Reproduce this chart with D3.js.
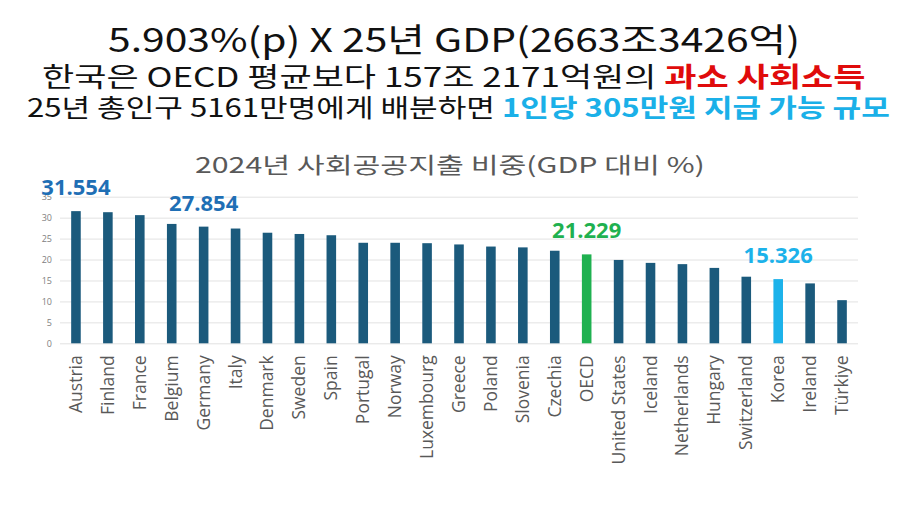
<!DOCTYPE html>
<html>
<head>
<meta charset="utf-8">
<script src="https://cdn.jsdelivr.net/npm/d3@7"></script>
<style>
  body { margin: 0; background: #fff; }
  svg { display: block; }
</style>
</head>
<body>
<div id="chart"></div>
<script>
// data
const countries = ["Austria", "Finland", "France", "Belgium", "Germany", "Italy", "Denmark",
  "Sweden", "Spain", "Portugal", "Norway", "Luxembourg", "Greece", "Poland", "Slovenia",
  "Czechia", "OECD", "United States", "Iceland", "Netherlands", "Hungary", "Switzerland",
  "Korea", "Ireland", "Türkiye"];
const shares = [31.554, 31.3, 30.6, 28.5, 27.854, 27.4, 26.4, 26.1, 25.8, 24.0, 24.0, 23.9,
  23.6, 23.1, 22.9, 22.1, 21.229, 19.9, 19.2, 18.9, 18.0, 15.9, 15.326, 14.3, 10.3];
const yTicks = [0, 5, 10, 15, 20, 25, 30, 35];
const labelled = ["Austria", "Germany", "OECD", "Korea"];

const headline = "5.903%(p) X 25년 GDP(2663조3426억)";
const line2 = [["한국은 OECD 평균보다 157조 2171억원의 ", false], ["과소 사회소득", true]];
const line3 = [["25년 총인구 5161만명에게 배분하면 ", false], ["1인당 305만원 지급 가능 규모", true]];
const chartTitle = "2024년 사회공공지출 비중(GDP 대비 %)";

const width = 922, height = 511;
const barColor = "#1b5a7c", oecdColor = "#1fb150", koreaColor = "#1cb2ea";

function colorOf(name) {
  if (name === "OECD") return oecdColor;
  if (name === "Korea") return koreaColor;
  return barColor;
}
function labelColor(name) {
  if (name === "OECD") return oecdColor;
  if (name === "Korea") return koreaColor;
  return "#1f6fb5";
}

const svg = d3.select("#chart").append("svg")
  .attr("width", width)
  .attr("height", height);

// squeeze a text element horizontally so it spans [x0, x1]
function fitWidth(sel, x0, x1) {
  const box = sel.node().getBBox();
  const sx = (x1 - x0) / box.width;
  sel.attr("transform", `translate(${x0},0) scale(${sx},1) translate(${-box.x},0)`);
}

const kfont = "'Noto Sans CJK KR', 'Noto Sans', sans-serif";

const t1 = svg.append("text")
  .attr("x", 0).attr("y", 52)
  .style("font-family", kfont)
  .style("font-size", "33px")
  .attr("fill", "#111")
  .text(headline);
fitWidth(t1, 108, 800);

function richLine(parts, y, size, hiColor) {
  const t = svg.append("text")
    .attr("x", 0).attr("y", y)
    .style("font-family", kfont)
    .style("font-size", size + "px");
  t.selectAll("tspan").data(parts).join("tspan")
    .attr("fill", (d) => (d[1] ? hiColor : "#111"))
    .style("font-weight", (d) => (d[1] ? "700" : "400"))
    .text((d) => d[0]);
  return t;
}
fitWidth(richLine(line2, 87, 27, "#e00b0b"), 42, 866);
fitWidth(richLine(line3, 117, 25, "#1ab0e8"), 27, 890);

const ct = svg.append("text")
  .attr("x", 0).attr("y", 173)
  .style("font-family", kfont)
  .style("font-size", "22px")
  .attr("fill", "#595959")
  .text(chartTitle);
fitWidth(ct, 195, 705);

// scales
const x = d3.scaleBand()
  .domain(countries)
  .range([60, 858])
  .paddingInner(0.7)
  .paddingOuter(0.35);

const y = d3.scaleLinear()
  .domain([0, 35])
  .range([343.3, 196.7]);

// gridlines + y ticks
const yAxis = d3.axisLeft(y)
  .tickValues(yTicks)
  .tickSize(-(858 - 60))
  .tickPadding(8);

const gy = svg.append("g")
  .attr("transform", "translate(60,0)")
  .call(yAxis);
gy.select(".domain").remove();
gy.selectAll(".tick line").attr("stroke", "#e2e2e2").attr("stroke-width", 1);
gy.selectAll(".tick text")
  .attr("fill", "#808080")
  .style("font-family", "'Open Sans', sans-serif")
  .style("font-size", "9px");

// bars
svg.append("g").selectAll("rect")
  .data(countries)
  .join("rect")
  .attr("x", (d) => x(d))
  .attr("width", x.bandwidth())
  .attr("y", (d, i) => y(shares[i]))
  .attr("height", (d, i) => y(0) - y(shares[i]))
  .attr("fill", (d) => colorOf(d));

// x labels
const xAxis = d3.axisBottom(x).tickSize(0).tickPadding(0);
const gx = svg.append("g")
  .attr("transform", `translate(0,${y(0)})`)
  .call(xAxis);
gx.select(".domain").remove();
gx.selectAll(".tick text")
  .attr("transform", "translate(6,12) rotate(-90)")
  .attr("dy", 0)
  .attr("text-anchor", "end")
  .attr("fill", "#595959")
  .style("font-family", "'Open Sans', sans-serif")
  .style("font-size", "17.5px");

// value labels
svg.append("g").selectAll("text")
  .data(countries.filter((d) => labelled.includes(d)))
  .join("text")
  .attr("x", (d) => x(d) + x.bandwidth() / 2)
  .attr("y", (d) => y(shares[countries.indexOf(d)]) - 16)
  .attr("text-anchor", "middle")
  .attr("fill", (d) => labelColor(d))
  .style("font-family", "'Open Sans', sans-serif")
  .style("font-weight", "700")
  .style("font-size", "22px")
  .text((d) => shares[countries.indexOf(d)].toFixed(3));
</script>
</body>
</html>
